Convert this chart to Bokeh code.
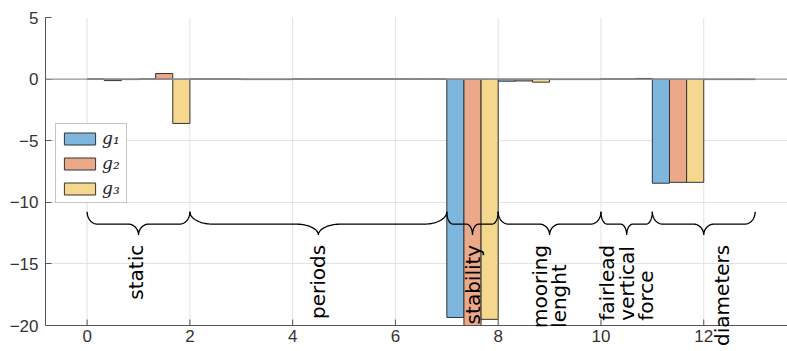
import math
from bokeh.plotting import figure
from bokeh.models import ColumnDataSource, Span, FixedTicker
from bokeh.core.properties import value
from bokeh.transform import dodge
from bokeh.embed import file_html
from bokeh.resources import INLINE

# ---- data ----
group_x = [0.5, 1.5, 2.5, 3.5, 4.5, 5.5, 6.5, 7.5, 8.5, 9.5, 10.5, 11.5, 12.5]
g1 = [0.0, 0.0, 0.0, -0.04, 0.0, 0.0, 0.0, -19.35, -0.17, -0.04, 0.0, -8.45, -0.04]
g2 = [-0.12, 0.45, 0.0, -0.04, 0.0, 0.0, 0.0, -20.5, -0.15, -0.04, 0.0, -8.38, -0.04]
g3 = [-0.04, -3.6, 0.0, -0.04, 0.0, 0.0, 0.0, -19.5, -0.25, -0.04, 0.05, -8.38, -0.04]
series_labels = ["g\u2081", "g\u2082", "g\u2083"]

cat_names = ["static", "periods", "stability", "mooring\nlenght",
             "fairlead\nvertical\nforce", "diameters"]
cat_start = [0, 2, 7, 8, 10, 11]
cat_end = [2, 7, 8, 10, 11, 13]
label_x = [0.95, 4.5, 7.5, 9.0, 10.5, 12.35]

x_ticks = [0, 2, 4, 6, 8, 10, 12]
x_tick_labels = ["0", "2", "4", "6", "8", "10", "12"]
y_ticks = [-20, -15, -10, -5, 0, 5]

# ---- layout / styles ----
colors = ["#7eb6de", "#eca98a", "#f5d78d"]
W, H = 787, 351
BL, BR, BT = 45, 0, 17
AX_H = 26                      # room under the axis line for tick labels
x0r, x1r = -0.81, 13.63
y_axis_min, y1r = -20, 5
px_per_y = (H - BT - AX_H) / (y1r - y_axis_min)
y0r = y_axis_min - AX_H / px_per_y
axis_col = "#555555"
tick_len_px = 6

p = figure(width=W, height=H, output_backend="svg", toolbar_location=None,
           x_range=(x0r, x1r), y_range=(y0r, y1r),
           min_border_left=BL, min_border_right=BR, min_border_top=BT,
           min_border_bottom=0)
p.outline_line_color = None
p.background_fill_color = "white"
p.border_fill_color = "white"
p.xaxis.visible = False
p.xgrid.visible = False

ya = p.yaxis[0]
ya.ticker = FixedTicker(ticks=y_ticks)
ya.bounds = (y_axis_min, y1r)
ya.minor_tick_line_color = None
ya.major_tick_in = tick_len_px
ya.major_tick_out = 0
ya.axis_line_color = axis_col
ya.major_tick_line_color = axis_col
ya.major_label_text_font = "Liberation Sans"
ya.major_label_text_font_size = "17px"
ya.major_label_text_color = "#333333"
ya.major_label_standoff = 7

p.ygrid.ticker = FixedTicker(ticks=y_ticks)
p.ygrid.grid_line_color = "#e3e3e3"

# vertical grid lines (only inside the axes box)
p.segment(x0=x_ticks, y0=[y_axis_min] * len(x_ticks), x1=x_ticks,
          y1=[y1r] * len(x_ticks), line_color="#e3e3e3", line_width=1)

src = ColumnDataSource(dict(x=group_x, g1=g1, g2=g2, g3=g3))
bw = 1.0 / 3.0
for i, (col, c, lab) in enumerate(zip(["g1", "g2", "g3"], colors, series_labels)):
    p.vbar(x=dodge("x", (i - 1) * bw, range=p.x_range), top=col, bottom=0,
           width=bw, source=src, fill_color=c, line_color="#333333",
           line_width=1, legend_label=lab)

# cover bar parts below the axis box
p.quad(left=x0r, right=x1r, bottom=y0r, top=y_axis_min, fill_color="white",
       line_color=None)

p.add_layout(Span(location=0, dimension="width", line_color="#9a9a9a",
                  line_width=1.2))

# bottom axis drawn by hand
p.segment(x0=x0r, y0=y_axis_min, x1=x1r, y1=y_axis_min, line_color=axis_col,
          line_width=1)
p.segment(x0=x_ticks, y0=[y_axis_min] * len(x_ticks), x1=x_ticks,
          y1=[y_axis_min + tick_len_px / px_per_y] * len(x_ticks),
          line_color=axis_col, line_width=1)
p.text(x=x_ticks, y=[y_axis_min] * len(x_ticks), text=x_tick_labels,
       y_offset=4, text_align="center", text_baseline="top",
       text_font=value("Liberation Sans"), text_font_size="17px",
       text_color="#333333")

# ---- braces ----
y_top, y_mid, y_bot = -10.77, -11.77, -12.66
for s, e in zip(cat_start, cat_end):
    w = e - s
    rx = 0.08 * w + 0.04
    xc = (s + e) / 2.0
    xs, ys = [], []
    n = 20
    for k in range(n + 1):
        t = k / n * math.pi / 2
        xs.append(s + rx * (1 - math.cos(t)))
        ys.append(y_top - (y_top - y_mid) * math.sin(t))
    for k in range(n + 1):
        t = k / n * math.pi / 2
        xs.append(xc - rx + rx * math.sin(t))
        ys.append(y_mid - (y_mid - y_bot) * (1 - math.cos(t)))
    for k in range(n, -1, -1):
        t = k / n * math.pi / 2
        xs.append(xc + rx - rx * math.sin(t))
        ys.append(y_mid - (y_mid - y_bot) * (1 - math.cos(t)))
    for k in range(n, -1, -1):
        t = k / n * math.pi / 2
        xs.append(e - rx * (1 - math.cos(t)))
        ys.append(y_top - (y_top - y_mid) * math.sin(t))
    p.line(xs, ys, line_color="black", line_width=1.3)

# ---- rotated labels (lines left aligned, longest line ends below tip) ----
adv = {"a": .613, "b": .635, "c": .550, "d": .635, "e": .615, "f": .352,
       "g": .635, "h": .634, "i": .278, "l": .278, "m": .974, "n": .634,
       "o": .612, "p": .635, "r": .411, "s": .521, "t": .392, "v": .592,
       "y": .592, " ": .318}
fs = 20
anchor_top = -13.45
label_y = []
for name in cat_names:
    longest = max(sum(adv.get(ch, 0.6) for ch in line) for line in name.split("\n"))
    label_y.append(anchor_top - longest * fs / px_per_y)

p.text(x=label_x, y=label_y, text=cat_names, angle=math.pi / 2,
       text_align="left", text_baseline="middle",
       text_font=value("DejaVu Sans"), text_font_size=f"{fs}px",
       text_line_height=0.82, text_color="black")

lg = p.legend[0]
lg.location = (10, 122 + AX_H)
lg.margin = 0
lg.padding = 4
lg.spacing = 5
lg.glyph_width = 39
lg.glyph_height = 15
lg.label_height = 15
lg.label_standoff = 3
lg.label_text_font = "DejaVu Serif"
lg.label_text_font_style = "italic"
lg.label_text_font_size = "17px"
lg.label_text_color = "#222222"
lg.border_line_color = "#8a8a8a"
lg.border_line_width = 1
lg.background_fill_alpha = 1

open("out.html", "w").write(file_html(p, INLINE))
